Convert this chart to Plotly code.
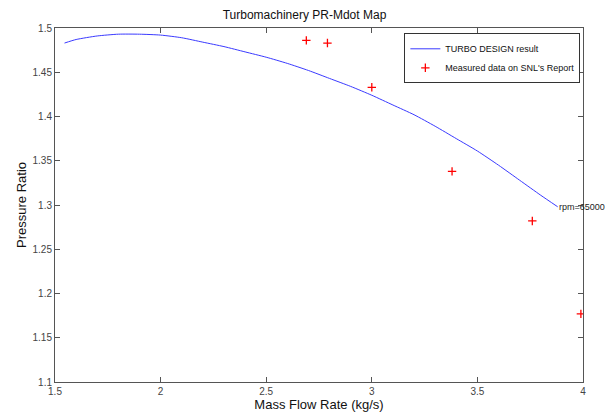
import plotly.graph_objects as go

# TURBO DESIGN result curve
curve_x = [1.545, 1.60, 1.70, 1.80, 1.90, 2.00, 2.10, 2.20, 2.30, 2.40, 2.50, 2.60, 2.70,
           2.80, 2.90, 3.00, 3.10, 3.20, 3.30, 3.40, 3.50, 3.60, 3.70, 3.80, 3.88]
curve_y = [1.483, 1.487, 1.491, 1.493, 1.493, 1.492, 1.489, 1.484, 1.479, 1.473, 1.467, 1.460, 1.452,
           1.443, 1.434, 1.424, 1.413, 1.402, 1.389, 1.375, 1.361, 1.345, 1.328, 1.311, 1.298]

# Measured data on SNL's Report
meas_x = [2.69, 2.79, 3.00, 3.38, 3.76, 3.99]
meas_y = [1.486, 1.483, 1.433, 1.338, 1.282, 1.177]

x_ticks = [1.5, 2, 2.5, 3, 3.5, 4]
x_tick_text = ["1.5", "2", "2.5", "3", "3.5", "4"]
y_ticks = [1.1, 1.15, 1.2, 1.25, 1.3, 1.35, 1.4, 1.45, 1.5]
y_tick_text = ["1.1", "1.15", "1.2", "1.25", "1.3", "1.35", "1.4", "1.45", "1.5"]

font = "Liberation Sans, Arial, sans-serif"

fig = go.Figure()
fig.add_trace(go.Scatter(x=curve_x, y=curve_y, mode="lines", name="TURBO DESIGN result",
                         line=dict(color="#3a3aff", width=1, shape="spline", smoothing=0.6)))
fig.add_trace(go.Scatter(x=meas_x, y=meas_y, mode="markers", name="Measured data on SNL's Report",
                         marker=dict(symbol="cross-thin", size=6, color="red",
                                     line=dict(color="red", width=1.3))))

fig.add_annotation(x=curve_x[-1], y=curve_y[-1], text="rpm=65000", showarrow=False,
                   xanchor="left", yanchor="middle", xshift=-1,
                   font=dict(family=font, size=9, color="#222"))

axis_common = dict(showline=True, linecolor="#555", linewidth=1, mirror="ticks",
                   ticks="inside", ticklen=5, tickcolor="#555", showgrid=False, zeroline=False,
                   automargin=False,
                   tickfont=dict(family=font, size=10, color="#444"))

fig.update_layout(
    width=609, height=414,
    margin=dict(l=55, r=26, t=28, b=32),
    paper_bgcolor="white", plot_bgcolor="white",
    title=dict(text="Turbomachinery PR-Mdot Map", x=0.5, xanchor="center", y=0.965, yanchor="middle",
               font=dict(family=font, size=12, color="#111")),
    xaxis=dict(range=[1.5, 4], tickvals=x_ticks, ticktext=x_tick_text,
               title=dict(text="Mass Flow Rate (kg/s)", standoff=0,
                          font=dict(family=font, size=13, color="#111")),
               **axis_common),
    yaxis=dict(range=[1.1, 1.5], tickvals=y_ticks, ticktext=y_tick_text,
               title=dict(text="Pressure Ratio", standoff=2,
                          font=dict(family=font, size=13, color="#111")),
               **axis_common),
    legend=dict(x=0.995, y=0.985, xanchor="right", yanchor="top",
                bordercolor="#333", borderwidth=1, bgcolor="white",
                font=dict(family=font, size=9, color="#111"),
                tracegroupgap=0, itemwidth=30),
    showlegend=True,
)

fig.write_html("out.html", config={"displayModeBar": False},
               post_script="document.body.style.margin='0';document.body.style.overflow='hidden';")
